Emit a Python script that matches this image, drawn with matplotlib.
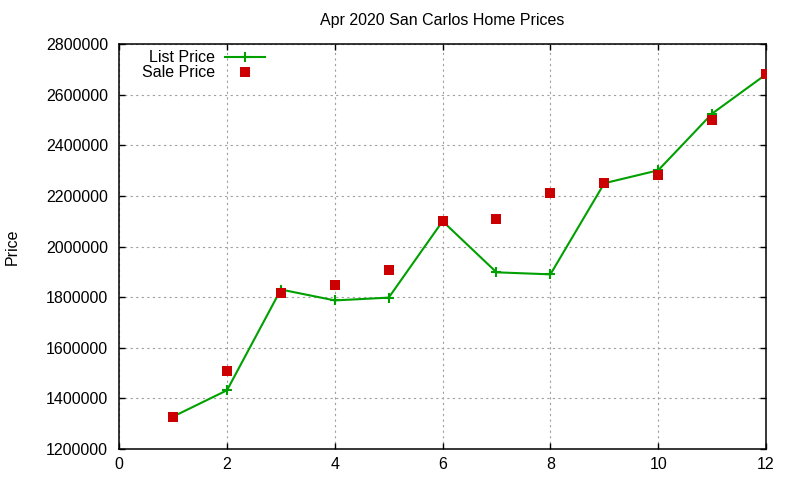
import matplotlib
matplotlib.use("Agg")
import matplotlib.pyplot as plt
from matplotlib.ticker import FixedLocator

plt.rcParams['font.family'] = ['Liberation Sans', 'DejaVu Sans']
plt.rcParams['font.size'] = 9

months = [1, 2, 3, 4, 5, 6, 7, 8, 9, 10, 11, 12]
list_price = [1328000, 1432000, 1830000, 1787000, 1798000, 2100000,
              1898000, 1890000, 2250000, 2301000, 2525000, 2680000]
sale_price = [1328000, 1507000, 1818000, 1849000, 1906000, 2100000,
              2107000, 2210000, 2250000, 2281000, 2499000, 2680000]
x_ticks = [0, 2, 4, 6, 8, 10, 12]
y_ticks = [1200000, 1400000, 1600000, 1800000, 2000000, 2200000,
           2400000, 2600000, 2800000]
title = "Apr 2020 San Carlos Home Prices"

fig = plt.figure(figsize=(8, 4.8), dpi=100)
ax = fig.add_axes([0.149, 0.0646, 0.8085, 0.8437])

ax.plot(months, list_price, color='#00a000', lw=1.5, marker='+',
        ms=7, mew=1.5, label='List Price', zorder=3)
ax.plot(months, sale_price, color='#cc0000', lw=0, marker='s',
        ms=7, mew=0, label='Sale Price', zorder=4)

ax.set_xlim(0, 12)
ax.set_ylim(1200000, 2800000)
ax.xaxis.set_major_locator(FixedLocator(x_ticks))
ax.yaxis.set_major_locator(FixedLocator(y_ticks))
ax.set_xticklabels([str(v) for v in x_ticks])
ax.set_yticklabels([str(v) for v in y_ticks])

ax.tick_params(direction='in', length=4.5, width=1, top=True, right=True,
               labelsize=11.5, colors='black')
ax.tick_params(axis='y', pad=8)
ax.tick_params(axis='x', pad=6)
for s in ax.spines.values():
    s.set_linewidth(1.1)
    s.set_color('black')

ax.grid(True, color='#a0a0a0', lw=0.8, linestyle=(0, (2, 3)))
ax.set_axisbelow(True)

ax.set_title(title, fontsize=11.5, pad=14)
ax.set_ylabel("Price", fontsize=11.5, labelpad=19)

leg = ax.legend(loc='upper right', bbox_to_anchor=(0.226, 0.985), frameon=False,
                markerfirst=False, fontsize=11.5, handlelength=2.55,
                handletextpad=0.6, borderpad=0, borderaxespad=0,
                labelspacing=0.0, numpoints=1)

fig.savefig("out.png", dpi=100)
